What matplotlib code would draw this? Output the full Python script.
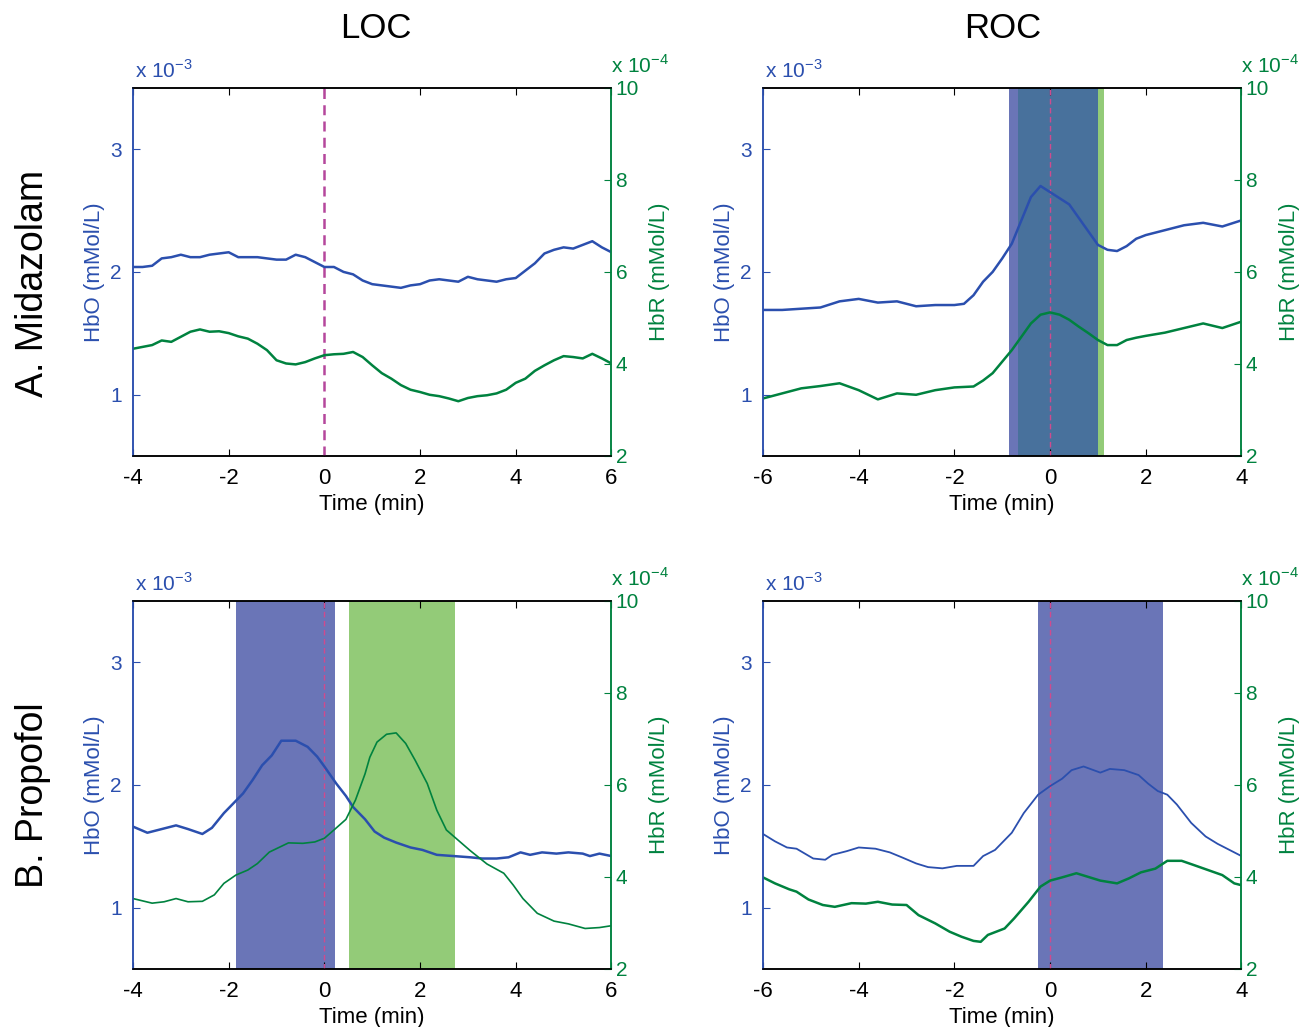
import matplotlib
matplotlib.use("Agg")
import matplotlib.pyplot as plt

plt.rcParams['font.family'] = ['Liberation Sans', 'DejaVu Sans']
plt.rcParams['mathtext.fontset'] = 'custom'
plt.rcParams['mathtext.rm'] = 'Liberation Sans'
plt.rcParams['axes.unicode_minus'] = False

BLUE = '#2b4fae'
GREEN = '#00823f'
SPAN_HBO = '#6a75b7'
SPAN_HBR = '#93cb78'
SPAN_BOTH = '#48719c'

# HbO in units of 1e-3 mMol/L, HbR in units of 1e-4 mMol/L, time in min

# A. Midazolam, LOC
mid_loc_t = [-4.0, -3.8, -3.6, -3.4, -3.2, -3.0, -2.8, -2.6, -2.4, -2.2, -2.0,
             -1.8, -1.6, -1.4, -1.2, -1.0, -0.8, -0.6, -0.4, -0.2, 0.0,
             0.2, 0.4, 0.6, 0.8, 1.0, 1.2, 1.4, 1.6, 1.8, 2.0,
             2.2, 2.4, 2.6, 2.8, 3.0, 3.2, 3.4, 3.6, 3.8, 4.0,
             4.2, 4.4, 4.6, 4.8, 5.0, 5.2, 5.4, 5.6, 5.8, 6.0]
mid_loc_hbo = [2.04, 2.04, 2.05, 2.11, 2.12, 2.14, 2.12, 2.12, 2.14, 2.15, 2.16,
               2.12, 2.12, 2.12, 2.11, 2.10, 2.10, 2.14, 2.12, 2.08, 2.04,
               2.04, 2.00, 1.98, 1.93, 1.90, 1.89, 1.88, 1.87, 1.89, 1.90,
               1.93, 1.94, 1.93, 1.92, 1.96, 1.94, 1.93, 1.92, 1.94, 1.95,
               2.01, 2.07, 2.15, 2.18, 2.20, 2.19, 2.22, 2.25, 2.20, 2.16]
mid_loc_hbr = [4.33, 4.37, 4.41, 4.51, 4.48, 4.59, 4.70, 4.75, 4.70, 4.71, 4.67,
               4.60, 4.55, 4.44, 4.30, 4.08, 4.01, 3.99, 4.04, 4.12, 4.19,
               4.21, 4.22, 4.26, 4.15, 3.97, 3.80, 3.68, 3.54, 3.44, 3.39,
               3.33, 3.30, 3.25, 3.19, 3.26, 3.30, 3.32, 3.36, 3.44, 3.59,
               3.68, 3.85, 3.97, 4.08, 4.17, 4.15, 4.12, 4.22, 4.12, 4.01]

# A. Midazolam, ROC
mid_roc_t = [-6.0, -5.6, -5.2, -4.8, -4.4, -4.0, -3.6, -3.2, -2.8, -2.4, -2.0, -1.8,
             -1.6, -1.4, -1.2, -1.0, -0.8, -0.6, -0.4, -0.2, 0.0,
             0.2, 0.4, 0.6, 0.8, 1.0, 1.2, 1.4, 1.6, 1.8, 2.0,
             2.4, 2.8, 3.2, 3.6, 4.0]
mid_roc_hbo = [1.69, 1.69, 1.70, 1.71, 1.76, 1.78, 1.75, 1.76, 1.72, 1.73, 1.73, 1.74,
               1.81, 1.92, 2.00, 2.11, 2.23, 2.42, 2.61, 2.70, 2.65,
               2.60, 2.55, 2.44, 2.33, 2.22, 2.18, 2.17, 2.21, 2.27, 2.30,
               2.34, 2.38, 2.40, 2.37, 2.42]
mid_roc_hbr = [3.25, 3.36, 3.47, 3.52, 3.58, 3.43, 3.23, 3.36, 3.33, 3.43, 3.49, 3.50,
               3.51, 3.64, 3.80, 4.05, 4.30, 4.59, 4.88, 5.07, 5.12,
               5.07, 4.96, 4.81, 4.67, 4.52, 4.41, 4.41, 4.52, 4.57, 4.61,
               4.68, 4.78, 4.88, 4.78, 4.92]

# B. Propofol, LOC
pro_loc_t_hbo = [-4.0, -3.7, -3.5, -3.1, -2.85, -2.55, -2.35, -2.1, -1.85, -1.7, -1.5,
                 -1.3, -1.1, -0.9, -0.6, -0.35, -0.15, 0.0, 0.25, 0.45, 0.6, 0.85,
                 1.05, 1.25, 1.5, 1.8, 2.05, 2.35, 2.7, 3.05, 3.3, 3.6, 3.85, 4.1,
                 4.3, 4.55, 4.85, 5.1, 5.4, 5.55, 5.75, 6.0]
pro_loc_hbo = [1.66, 1.61, 1.63, 1.67, 1.64, 1.60, 1.65, 1.77, 1.87, 1.93, 2.04,
               2.16, 2.24, 2.36, 2.36, 2.31, 2.23, 2.15, 2.01, 1.91, 1.82, 1.72,
               1.62, 1.57, 1.53, 1.49, 1.47, 1.43, 1.42, 1.41, 1.40, 1.40, 1.41, 1.45,
               1.43, 1.45, 1.44, 1.45, 1.44, 1.42, 1.44, 1.42]
pro_loc_t_hbr = [-4.0, -3.6, -3.35, -3.1, -2.85, -2.55, -2.3, -2.1, -1.85, -1.6, -1.4,
                 -1.15, -0.95, -0.75, -0.45, -0.2, 0.0, 0.2, 0.45, 0.65, 0.85, 0.95,
                 1.1, 1.3, 1.5, 1.7, 1.9, 2.15, 2.35, 2.55, 2.75, 3.05, 3.4, 3.75,
                 3.95, 4.15, 4.45, 4.8, 5.1, 5.45, 5.75, 6.0]
pro_loc_hbr = [3.53, 3.43, 3.46, 3.53, 3.46, 3.47, 3.61, 3.86, 4.04, 4.15, 4.29,
               4.54, 4.64, 4.74, 4.73, 4.76, 4.84, 5.02, 5.25, 5.67, 6.24, 6.60,
               6.93, 7.10, 7.13, 6.90, 6.53, 6.03, 5.45, 5.02, 4.84, 4.57, 4.28, 4.08,
               3.82, 3.53, 3.21, 3.04, 2.98, 2.88, 2.90, 2.94]

# B. Propofol, ROC
pro_roc_t_hbo = [-6.0, -5.75, -5.5, -5.3, -4.95, -4.7, -4.55, -4.25, -4.0, -3.65, -3.35,
                 -3.1, -2.8, -2.55, -2.25, -1.95, -1.6, -1.4, -1.15, -0.95, -0.8, -0.55,
                 -0.25, 0.0, 0.25, 0.45, 0.7, 1.05, 1.25, 1.55, 1.85, 2.05, 2.25, 2.45,
                 2.65, 2.95, 3.25, 3.5, 3.8, 4.0]
pro_roc_hbo = [1.60, 1.54, 1.49, 1.48, 1.40, 1.39, 1.43, 1.46, 1.49, 1.48, 1.45,
               1.41, 1.36, 1.33, 1.32, 1.34, 1.34, 1.42, 1.47, 1.55, 1.61, 1.77,
               1.92, 1.99, 2.05, 2.12, 2.15, 2.10, 2.13, 2.12, 2.08, 2.01, 1.95, 1.92,
               1.84, 1.69, 1.58, 1.52, 1.46, 1.42]
pro_roc_t_hbr = [-6.0, -5.75, -5.45, -5.3, -5.05, -4.75, -4.5, -4.15, -3.85, -3.6, -3.3,
                 -3.0, -2.75, -2.4, -2.1, -1.85, -1.6, -1.45, -1.3, -0.95, -0.75, -0.45,
                 -0.2, 0.0, 0.25, 0.55, 0.8, 1.05, 1.4, 1.65, 1.9, 2.2, 2.45, 2.75,
                 3.0, 3.3, 3.6, 3.85, 4.0]
pro_roc_hbr = [3.99, 3.86, 3.73, 3.68, 3.51, 3.39, 3.35, 3.43, 3.42, 3.46, 3.40,
               3.39, 3.17, 2.99, 2.81, 2.70, 2.61, 2.59, 2.74, 2.88, 3.10, 3.46,
               3.79, 3.92, 3.99, 4.08, 4.00, 3.92, 3.86, 3.97, 4.10, 4.18, 4.35, 4.35,
               4.26, 4.15, 4.04, 3.86, 3.82]

# significant windows (min)
mid_roc_hbo_win = (-0.86, 1.01)
mid_roc_hbr_win = (-0.68, 1.13)
pro_loc_hbo_win = (-1.85, 0.23)
pro_loc_hbr_win = (0.51, 2.72)
pro_roc_hbo_win = (-0.25, 2.37)

fig = plt.figure(figsize=(13.09, 10.27), dpi=100)


def panel(rect, t_o, hbo, t_r, hbr, xlim, xticks, hbo_win=None, hbr_win=None,
          lw_o=1.8, lw_r=1.8, dash_c='#d04a8e', dash_lw=1.0):
    ax = fig.add_axes(rect)
    ax2 = ax.twinx()
    if hbo_win:
        ax.axvspan(*hbo_win, color=SPAN_HBO, lw=0)
    if hbr_win:
        ax.axvspan(*hbr_win, color=SPAN_HBR, lw=0)
    if hbo_win and hbr_win:
        lo = max(hbo_win[0], hbr_win[0])
        hi = min(hbo_win[1], hbr_win[1])
        if hi > lo:
            ax.axvspan(lo, hi, color=SPAN_BOTH, lw=0)
    ax.axvline(0, color=dash_c, ls=(0, (4, 2.5)), lw=dash_lw, zorder=3)
    ax.plot(t_o, hbo, color=BLUE, lw=lw_o, zorder=4)
    ax2.plot(t_r, hbr, color=GREEN, lw=lw_r)

    ax.set_xlim(*xlim)
    ax.set_xticks(xticks)
    ax.set_ylim(0.5, 3.5)
    ax.set_yticks([1, 2, 3])
    ax2.set_ylim(2, 10)
    ax2.set_yticks([2, 4, 6, 8, 10])

    ax.tick_params(axis='x', direction='in', top=True, length=5, labelsize=16, pad=9)
    ax.tick_params(axis='y', direction='in', length=5, colors=BLUE, labelsize=15, pad=8)
    ax2.tick_params(axis='y', direction='in', length=5, colors=GREEN, labelsize=15, pad=3)
    for a in (ax, ax2):
        a.spines['left'].set_color(BLUE)
        a.spines['right'].set_color(GREEN)
        for s in a.spines.values():
            s.set_linewidth(1.1)

    ax.set_xlabel('Time (min)', fontsize=16, labelpad=3)
    ax.set_ylabel('HbO (mMol/L)', color=BLUE, fontsize=16, labelpad=4)
    ax2.set_ylabel('HbR (mMol/L)', color=GREEN, fontsize=16, labelpad=7)
    ax.text(0.005, 1.015, r'x 10$^{\mathregular{-3}}$', transform=ax.transAxes,
            color=BLUE, fontsize=15, va='bottom', ha='left')
    ax.text(1.0, 1.03, r'x 10$^{\mathregular{-4}}$', transform=ax.transAxes,
            color=GREEN, fontsize=15, va='bottom', ha='left')
    return ax


W = 0.3655
H = 0.3585
panel([0.1016, 0.5560, W, H], mid_loc_t, mid_loc_hbo, mid_loc_t, mid_loc_hbr,
      (-4, 6), [-4, -2, 0, 2, 4, 6], dash_c='#b5479c', dash_lw=1.8)
panel([0.5829, 0.5560, W, H], mid_roc_t, mid_roc_hbo, mid_roc_t, mid_roc_hbr,
      (-6, 4), [-6, -4, -2, 0, 2, 4], mid_roc_hbo_win, mid_roc_hbr_win)
panel([0.1016, 0.0565, W, H], pro_loc_t_hbo, pro_loc_hbo, pro_loc_t_hbr, pro_loc_hbr,
      (-4, 6), [-4, -2, 0, 2, 4, 6], pro_loc_hbo_win, pro_loc_hbr_win,
      lw_o=1.8, lw_r=1.2)
panel([0.5829, 0.0565, W, H], pro_roc_t_hbo, pro_roc_hbo, pro_roc_t_hbr, pro_roc_hbr,
      (-6, 4), [-6, -4, -2, 0, 2, 4], pro_roc_hbo_win,
      lw_o=1.3, lw_r=1.8)

fig.text(376 / 1309, 1 - 28 / 1027, 'LOC', fontsize=25, ha='center', va='center')
fig.text(1003 / 1309, 1 - 28 / 1027, 'ROC', fontsize=25, ha='center', va='center')
fig.text(33 / 1309, 1 - 283 / 1027, 'A. Midazolam', fontsize=27, rotation=90,
         ha='center', va='center')
fig.text(33 / 1309, 1 - 795 / 1027, 'B. Propofol', fontsize=27, rotation=90,
         ha='center', va='center')

fig.savefig('out.png', dpi=100)
